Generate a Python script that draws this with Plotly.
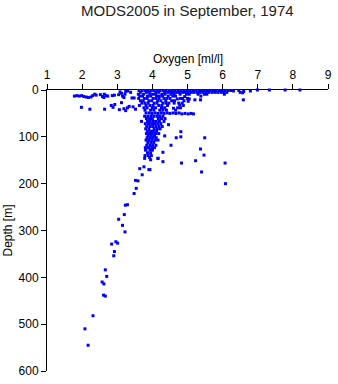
import plotly.graph_objects as go

# Oxygen (ml/l) and depth (m) of each bottle sample, grouped roughly by depth band.
oxygen = [
    # surface band
    3.62, 3.71, 3.80, 3.88, 3.97, 4.05, 4.14, 4.22, 4.31, 4.39, 4.48, 4.56, 4.64, 4.73, 4.81, 4.90,
    4.98, 5.06, 5.15, 5.23, 5.32, 5.40, 5.48, 5.57, 5.65, 5.74, 5.82, 5.91, 5.99, 6.07, 6.16, 6.24,
    6.31, 6.46, 6.60, 6.79, 6.99, 7.33, 7.78, 8.20,
    3.66, 3.83, 3.92, 4.10, 4.18, 4.35, 4.44, 4.52, 4.60, 4.69, 4.77, 4.86, 4.94, 5.02, 5.11, 5.19,
    5.28, 5.36, 5.44, 5.53, 5.61, 5.70, 5.78, 5.86, 5.95, 6.03, 6.12, 6.50, 6.57,
    3.60, 3.75, 3.93, 4.01, 4.09, 4.27, 4.36, 4.53, 4.62, 4.79, 4.97, 5.05, 5.30, 5.48, 5.55, 6.05,
    3.64, 3.72, 3.86, 3.95, 4.12, 4.20, 4.29, 4.45, 4.58, 4.66, 4.92, 5.38,
    # low-oxygen samples near the surface
    1.78, 1.85, 1.92, 1.99, 2.05, 2.12, 2.18, 2.25, 2.30, 2.36, 2.40,
    2.52, 2.58, 2.63, 2.68, 2.73, 2.62, 2.86, 2.92,
    3.04, 3.08, 3.12, 3.15, 3.19, 3.24, 3.22,
    1.98, 2.22, 2.64, 2.83, 2.88, 2.93, 3.06, 3.19, 3.24, 3.29, 3.34, 3.12, 3.42,
    3.30, 3.38, 3.48, 3.45, 3.52,
    # upper column
    3.61, 3.77, 3.85, 4.02, 4.10, 4.19, 4.33, 4.41, 4.50, 4.71, 4.80, 4.86, 5.00, 5.05, 5.21, 5.37, 6.59,
    3.66, 3.74, 3.90, 3.98, 4.15, 4.24, 4.38, 4.55, 4.63, 4.90, 5.02,
    3.70, 3.79, 3.88, 4.05, 4.13, 4.30, 4.39, 4.47, 4.62, 4.75, 4.85,
    3.63, 3.82, 3.93, 4.02, 4.18, 4.27, 4.43, 4.78, 4.88,
    3.76, 3.85, 4.00, 4.09, 4.26, 4.35, 4.60, 4.72, 4.80,
    3.79, 3.95, 4.04, 4.21, 4.30, 4.40, 4.66,
    3.82, 3.91, 3.99, 4.08, 4.16, 4.25, 4.33, 4.42, 4.50, 4.59, 4.67, 4.76, 4.84, 4.93, 5.02, 5.10, 5.17,
    # middle column
    3.78, 3.87, 3.96, 4.04, 4.13, 4.21, 4.30,
    3.83, 3.92, 4.00, 4.17, 4.26, 4.36,
    3.69, 3.86, 3.94, 4.03, 4.11, 4.20, 4.33,
    3.80, 3.89, 3.98, 4.06, 4.15, 4.24, 4.46,
    3.84, 3.93, 4.01, 4.10, 4.19, 4.28,
    3.81, 3.90, 4.05, 4.14, 4.22,
    3.86, 3.95, 4.03, 4.12, 4.81,
    3.83, 3.92, 4.00, 4.09, 4.18,
    3.88, 3.97, 4.06, 4.35, 4.81,
    3.85, 3.94, 4.02, 4.11, 4.68, 5.49,
    3.82, 3.90, 3.99, 4.08, 4.16,
    3.87, 3.96, 4.04,
    3.84, 3.93, 4.01, 4.10, 4.53,
    3.80, 3.89, 3.98, 4.06, 5.37,
    3.81, 3.93, 4.00, 4.30,
    3.86, 3.95, 5.47,
    3.79, 3.88, 3.97, 4.16,
    5.23, 4.83, 6.07, 5.40, 6.08, 3.93,
    # deep tail
    3.81, 3.99, 3.78, 3.92, 3.95, 4.16, 4.30,
    3.64, 3.76, 3.90, 3.71, 3.52, 3.59, 3.54, 3.48,
    3.29, 3.23, 3.20, 3.04, 3.15, 3.22, 2.96, 2.84, 3.01, 2.92, 2.90,
    2.66, 2.70, 2.57, 2.62, 2.61, 2.66, 2.31, 2.08, 2.17,
]

depth = [
    # surface band
    1, 1, 1, 1, 1, 1, 1, 1, 1, 1, 1, 1, 1, 1, 1, 1,
    1, 1, 1, 1, 1, 1, 1, 1, 1, 1, 1, 1, 1, 1, 1, 1,
    2, 1, 3, 2, 0, 0, 0, 0,
    5, 5, 5, 5, 5, 5, 5, 5, 5, 5, 5, 5, 5, 5, 5, 5,
    5, 5, 5, 5, 5, 5, 5, 5, 5, 5, 5, 5, 6,
    9, 9, 9, 9, 9, 9, 9, 9, 9, 9, 9, 9, 9, 9, 9, 9,
    13, 13, 13, 13, 13, 13, 13, 13, 13, 13, 14, 13,
    # low-oxygen samples near the surface
    13, 12, 13, 12, 14, 15, 16, 15, 12, 9, 11,
    10, 14, 9, 12, 13, 16, 12, 11,
    10, 4, 7, 13, 16, 3, 9,
    37, 41, 41, 33, 37, 31, 42, 40, 44, 38, 35, 27, 17,
    2, 5, 17, 36, 41,
    # upper column
    18, 18, 18, 18, 18, 18, 18, 18, 18, 19, 18, 18, 18, 19, 21, 21, 21,
    23, 23, 23, 23, 23, 23, 23, 23, 23, 23, 24,
    28, 28, 28, 28, 28, 28, 28, 28, 28, 28, 28,
    33, 33, 33, 33, 33, 33, 33, 32, 33,
    38, 38, 38, 38, 38, 38, 39, 38, 38,
    43, 43, 43, 43, 43, 43, 43,
    49, 49, 50, 49, 50, 49, 50, 49, 50, 49, 50, 49, 51, 50, 51, 50, 51,
    # middle column
    56, 56, 56, 56, 56, 56, 56,
    61, 61, 61, 61, 61, 61,
    67, 67, 67, 67, 67, 67, 67,
    72, 72, 72, 72, 72, 72, 74,
    78, 78, 78, 78, 78, 78,
    83, 83, 83, 83, 83,
    88, 88, 88, 88, 89,
    93, 93, 93, 93, 93,
    98, 98, 98, 98, 100,
    102, 102, 102, 102, 102, 102,
    107, 107, 107, 107, 107,
    112, 112, 112,
    118, 118, 118, 118, 118,
    123, 123, 123, 123, 126,
    128, 128, 128, 133,
    134, 134, 139,
    140, 140, 140, 146,
    151, 156, 156, 175, 200, 170,
    # deep tail
    128, 128, 146, 144, 149, 146, 153,
    168, 164, 170, 181, 193, 194, 210, 221,
    245, 246, 266, 276, 289, 303, 324, 329, 327, 345, 354,
    384, 398, 410, 414, 438, 440, 482, 510, 545,
]

oxygen_ticks = [1, 2, 3, 4, 5, 6, 7, 8, 9]
depth_ticks = [0, 100, 200, 300, 400, 500, 600]

font_family = "Liberation Sans, Arial, sans-serif"

fig = go.Figure(
    go.Scatter(
        x=oxygen,
        y=depth,
        mode="markers",
        marker=dict(symbol="square", size=3, color="#0000ff", line=dict(width=0)),
        cliponaxis=False,
        hoverinfo="x+y",
    )
)

axis_common = dict(
    showgrid=False,
    zeroline=False,
    showline=True,
    linecolor="black",
    linewidth=1,
    ticks="outside",
    ticklen=5,
    tickwidth=1,
    tickcolor="black",
    tickfont=dict(family=font_family, size=12, color="black"),
    layer="below traces",
)

fig.update_layout(
    width=338,
    height=384,
    margin=dict(l=47, r=6, t=90, b=9),
    paper_bgcolor="white",
    plot_bgcolor="white",
    showlegend=False,
    font=dict(family=font_family, color="black"),
    xaxis=dict(
        range=[1, 9],
        side="top",
        tickvals=oxygen_ticks,
        ticktext=[str(v) for v in oxygen_ticks],
        **axis_common,
    ),
    yaxis=dict(
        range=[600, 0],
        tickvals=depth_ticks,
        ticktext=[str(v) for v in depth_ticks],
        **axis_common,
    ),
    annotations=[
        dict(
            text="MODS2005 in September, 1974",
            xref="paper", yref="paper", x=0.5, y=1.0, yshift=80,
            xanchor="center", yanchor="middle", showarrow=False,
            font=dict(family=font_family, size=15, color="#222222"),
        ),
        dict(
            text="Oxygen [ml/l]",
            xref="paper", yref="paper", x=0.5, y=1.0, yshift=31,
            xanchor="center", yanchor="middle", showarrow=False,
            font=dict(family=font_family, size=12, color="black"),
        ),
        dict(
            text="Depth [m]",
            xref="paper", yref="paper", x=0.0, xshift=-40, y=0.5,
            xanchor="center", yanchor="middle", textangle=-90, showarrow=False,
            font=dict(family=font_family, size=12, color="black"),
        ),
    ],
)

fig.write_html("out.html")
